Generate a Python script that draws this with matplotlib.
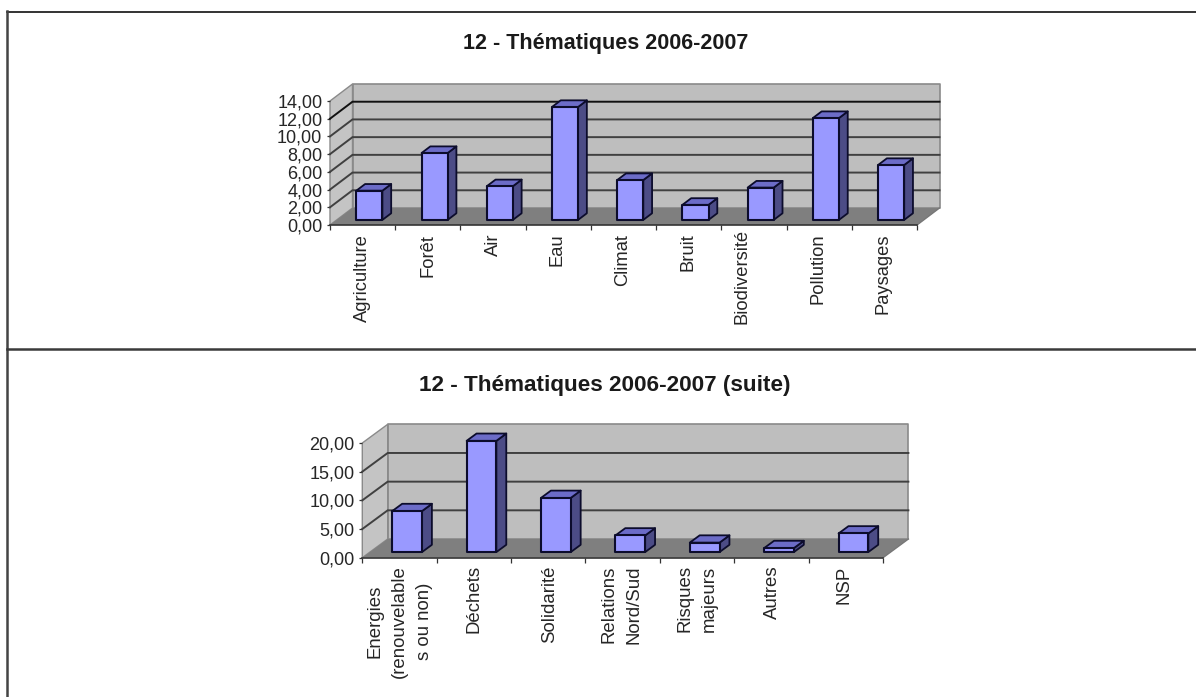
import matplotlib
matplotlib.use("Agg")
import matplotlib.pyplot as plt
from matplotlib.lines import Line2D
from matplotlib.patches import Polygon
from matplotlib.transforms import ScaledTranslation

plt.rcParams['font.family'] = ['Liberation Sans', 'DejaVu Sans']

W, H = 1196, 697
TEXT = '#262626'

title_top = "12 - Thématiques 2006-2007"
cats_top = ["Agriculture", "Forêt", "Air", "Eau", "Climat", "Bruit",
            "Biodiversité", "Pollution", "Paysages"]
vals_top = [3.3, 7.55, 3.8, 12.75, 4.5, 1.7, 3.65, 11.5, 6.2]
ticks_top = [0, 2, 4, 6, 8, 10, 12, 14]

title_bot = "12 - Thématiques 2006-2007 (suite)"
cats_bot = ["Energies\n(renouvelable\ns ou non)", "Déchets", "Solidarité",
            "Relations\nNord/Sud", "Risques\nmajeurs", "Autres", "NSP"]
vals_bot = [7.15, 19.4, 9.45, 2.9, 1.65, 0.7, 3.25]
ticks_bot = [0, 5, 10, 15, 20]


def chart(fig, rect_px, cats, vals, ticks, depth_px, label_dx, label_dy, label_y, label_fs, dark_grid):
    left, right, y0, y1 = rect_px
    ax = fig.add_axes([left / W, 1 - y0 / H, (right - left) / W, (y0 - y1) / H])
    n = len(cats)
    ymax = ticks[-1]
    ax.set_xlim(0, n)
    ax.set_ylim(0, ymax)
    ddx = depth_px[0] / ((right - left) / n)
    ddy = depth_px[1] / ((y0 - y1) / ymax)

    def add(pts, fc, ec='none', lw=0, z=1):
        ax.add_patch(Polygon(pts, closed=True, fc=fc, ec=ec, lw=lw, zorder=z,
                             clip_on=False, joinstyle='round'))

    wall_ec = '#8a8a8a'
    add([(ddx, ddy), (n + ddx, ddy), (n + ddx, ymax + ddy), (ddx, ymax + ddy)],
        '#BEBEBE', wall_ec, 1.2, 1)
    add([(0, 0), (ddx, ddy), (ddx, ymax + ddy), (0, ymax)], '#C4C4C4', wall_ec, 1.0, 1)
    add([(0, 0), (n, 0), (n + ddx, ddy), (ddx, ddy)], '#7F7F7F', 'none', 0, 2)

    for t in ticks[1:-1]:
        gc = '#111111' if t == dark_grid else '#404040'
        ax.plot([0, ddx, n + ddx], [t, t + ddy, t + ddy], color=gc, lw=1.4,
                zorder=3, clip_on=False, solid_joinstyle='miter')
    ax.plot([n, n + ddx], [0, ddy], color='#777777', lw=1.0, zorder=3, clip_on=False)

    width = 0.40
    d0, d1 = 0.30, 0.69
    edge = '#0c0c2c'
    for i, v in enumerate(vals):
        xa = i + 0.5 - width / 2 + d0 * ddx
        xb = xa + width
        ya = d0 * ddy
        sx = (d1 - d0) * ddx
        sy = (d1 - d0) * ddy
        add([(xb, ya), (xb + sx, ya + sy), (xb + sx, ya + sy + v), (xb, ya + v)],
            '#4C4C86', edge, 1.3, 5)
        add([(xa, ya + v), (xb, ya + v), (xb + sx, ya + sy + v), (xa + sx, ya + sy + v)],
            '#6C6CC8', edge, 1.3, 5)
        add([(xa, ya), (xb, ya), (xb, ya + v), (xa, ya + v)],
            '#9999FF', edge, 1.5, 6)

    ax.patch.set_visible(False)
    for s in ('top', 'right', 'left'):
        ax.spines[s].set_visible(False)
    ax.spines['bottom'].set_color('#333333')
    ax.spines['bottom'].set_linewidth(1.2)
    ax.spines['bottom'].set_zorder(7)

    ax.set_yticks(ticks)
    ax.set_yticklabels([f"{t:.2f}".replace('.', ',') for t in ticks],
                       fontsize=13, color=TEXT)
    ax.tick_params(axis='y', length=2.5, width=0.9, color='#333333', pad=3)
    ax.set_xticks(range(n + 1))
    ax.set_xticklabels([])
    ax.tick_params(axis='x', which='major', length=3.5, width=0.9, color='#333333')
    ax.set_xticks([i + 0.5 for i in range(n)], minor=True)
    ax.set_xticklabels(cats, minor=True, rotation=90, fontsize=label_fs, color=TEXT,
                       va='top', ha='center', linespacing=1.6, multialignment='center')
    ax.tick_params(axis='x', which='minor', length=0, pad=label_y)
    for lab, dx, dy in zip(ax.get_xticklabels(minor=True), label_dx, label_dy):
        lab.set_transform(lab.get_transform() +
                          ScaledTranslation(dx / fig.dpi, dy / fig.dpi, fig.dpi_scale_trans))
    return ax


fig = plt.figure(figsize=(W / 100, H / 100), dpi=100, facecolor='white')

chart(fig, (330, 917, 225, 101), cats_top, vals_top, ticks_top, (22.5, 17),
      [0, 0, 0, -1, -1, -1, -12, -1, -1], [1, 1, 1, 1, 1, 1, 6, 1, 1], 7, 13.2, 12)
chart(fig, (362.3, 883, 557.7, 443), cats_bot, vals_bot, ticks_bot, (25.4, 18.7),
      [0, 0, 1, -1, 0, 1, -2], [0, 0, 0, 0, 0, 0, 0], 5.5, 13.4, None)

fig.text(606 / W, 1 - 44 / H, title_top, ha='center', va='center',
         fontsize=15.5, fontweight='bold', color='#1a1a1a')
fig.text(605 / W, 1 - 386 / H, title_bot, ha='center', va='center',
         fontsize=16.2, fontweight='bold', color='#1a1a1a')

for xs, ys, c, lw in [((7.2, W), (11.7, 11.7), '#111111', 1.2),
                      ((7.2, 7.2), (11, H), '#444444', 1.8),
                      ((7, W), (349, 349), '#3a3a3a', 1.8)]:
    fig.add_artist(Line2D([x / W for x in xs], [1 - y / H for y in ys], color=c, lw=lw))

fig.savefig('out.png', dpi=100)
